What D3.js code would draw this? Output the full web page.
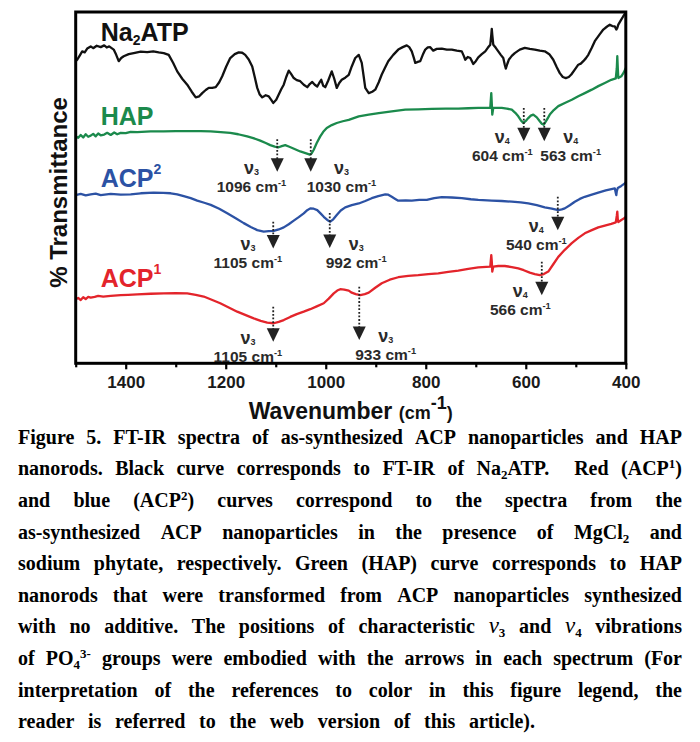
<!DOCTYPE html>
<html><head><meta charset="utf-8">
<script src="https://cdn.jsdelivr.net/npm/d3@7"></script>
<style>body{margin:0;background:#fff}svg{display:block}</style>
</head><body>
<script>
// ---------- DATA ----------
const xTicksMajor = [1400, 1200, 1000, 800, 600, 400];
const xTicksMinor = [1500, 1300, 1100, 900, 700, 500];

const na2atp = [[1500,86.0],[1497,86.4],[1492,87.6],[1487,88.8],[1482,88.5],[1477,89.6],[1470,90.2],[1465,89.7],[1458,90.4],[1450,90.0],[1443,90.5],[1438,89.9],[1433,90.2],[1424,89.3],[1419,87.8],[1414,86.0],[1409,86.9],[1404,87.4],[1394,88.0],[1384,88.3],[1370,88.7],[1357,88.6],[1345,88.8],[1334,88.5],[1324,88.3],[1314,87.8],[1305,85.5],[1297,83.1],[1287,81.0],[1277,79.3],[1268,77.3],[1260,75.7],[1253,76.0],[1247,76.9],[1240,77.8],[1234,78.4],[1227,78.4],[1220,78.6],[1213,80.0],[1207,81.7],[1199,84.5],[1191,86.9],[1182,88.0],[1174,88.5],[1167,88.4],[1161,87.8],[1154,86.5],[1147,84.5],[1142,81.5],[1137,78.4],[1132,76.5],[1127,75.7],[1120,76.3],[1114,76.0],[1109,75.0],[1105,74.1],[1099,75.0],[1094,76.5],[1089,78.0],[1084,79.3],[1079,81.5],[1074,83.3],[1069,82.3],[1064,81.2],[1058,80.6],[1051,80.3],[1044,79.3],[1037,78.6],[1032,79.5],[1027,80.1],[1022,79.3],[1017,78.8],[1013,79.8],[1009,80.7],[1005,79.0],[1001,78.6],[995,80.5],[988,83.1],[983,81.0],[978,78.4],[973,79.8],[968,80.7],[961,81.3],[954,82.1],[948,84.5],[941,86.9],[934,87.8],[928,85.5],[924,81.5],[921,78.4],[914,76.9],[907,77.3],[901,77.9],[894,80.0],[888,82.2],[881,84.3],[875,86.0],[865,87.8],[855,89.3],[846,90.0],[838,90.5],[833,90.0],[828,88.8],[824,87.0],[821,85.5],[816,85.8],[811,86.0],[806,87.8],[801,89.3],[796,89.9],[791,90.0],[785,89.0],[778,89.5],[768,89.6],[758,89.3],[748,89.3],[738,89.0],[728,88.8],[724,87.5],[721,86.4],[716,87.2],[711,86.9],[707,85.8],[705,85.2],[700,86.0],[695,87.1],[688,88.0],[681,88.8],[676,89.8],[671,90.7],[669,93.5],[668,95.2],[667,93.5],[665,90.7],[660,89.8],[655,88.8],[650,87.8],[645,86.9],[642,85.0],[640,83.9],[637,85.2],[634,86.4],[628,87.5],[622,88.3],[612,89.3],[602,89.8],[592,89.5],[582,89.3],[572,89.0],[562,88.8],[553,88.0],[545,86.4],[538,84.3],[532,82.6],[526,81.5],[520,81.2],[514,81.5],[509,82.2],[502,83.6],[495,85.0],[490,85.3],[485,86.0],[480,86.8],[475,87.8],[468,89.8],[462,91.7],[453,93.5],[445,95.0],[438,95.8],[432,96.4],[427,96.0],[422,95.9],[419,95.0],[417,95.5],[415,96.4],[410,97.6],[405,98.8],[400,99.9]];

const hap = [[1500,64.6],[1495,64.2],[1490,65.0],[1485,64.3],[1480,65.2],[1475,64.5],[1470,64.8],[1465,65.3],[1460,64.6],[1455,65.4],[1450,64.9],[1443,65.1],[1437,65.6],[1430,65.0],[1423,65.7],[1417,65.2],[1410,65.6],[1400,65.5],[1390,65.9],[1377,65.8],[1350,66.0],[1324,66.0],[1300,66.1],[1277,66.1],[1250,66.1],[1230,66.0],[1210,65.8],[1191,65.6],[1175,65.2],[1157,64.6],[1145,64.1],[1131,63.4],[1120,62.7],[1111,62.1],[1102,61.7],[1094,61.5],[1088,61.8],[1081,62.1],[1074,61.7],[1067,61.3],[1059,60.8],[1051,60.3],[1042,59.9],[1036,59.6],[1032,59.4],[1028,59.8],[1024,60.8],[1018,62.7],[1011,64.6],[1005,65.9],[998,67.0],[988,67.8],[978,68.4],[966,68.9],[954,69.3],[934,70.3],[914,70.8],[894,71.2],[868,71.7],[841,72.2],[815,72.3],[788,72.4],[760,72.5],[735,72.5],[715,72.6],[695,72.7],[671,72.7],[669,76.9],[668,74.0],[667,70.8],[665,72.7],[648,72.7],[638,72.5],[628,72.2],[621,71.3],[615,70.3],[610,69.2],[605,68.4],[600,69.0],[595,69.8],[590,70.5],[585,70.8],[578,70.0],[572,68.9],[568,68.2],[564,67.9],[558,69.3],[552,70.8],[544,72.1],[535,73.2],[522,74.1],[508,75.0],[495,76.0],[482,76.9],[468,77.9],[455,78.9],[442,79.8],[429,80.7],[420,81.1],[418,84.0],[417,87.4],[416,84.0],[415,81.2],[409,81.7],[404,82.8],[400,84.1]];

const acp2 = [[1500,47.9],[1490,48.2],[1480,47.8],[1470,48.1],[1460,48.3],[1450,47.9],[1430,48.2],[1410,48.0],[1390,48.1],[1370,48.4],[1344,48.6],[1325,48.5],[1310,48.4],[1297,48.1],[1284,47.6],[1270,47.0],[1257,46.3],[1243,45.7],[1230,45.1],[1213,44.0],[1197,42.7],[1180,41.3],[1164,39.9],[1150,38.8],[1137,37.9],[1124,37.5],[1114,37.6],[1104,37.7],[1094,38.1],[1084,38.7],[1074,39.6],[1064,40.6],[1054,41.6],[1044,42.7],[1037,43.6],[1031,44.1],[1024,44.0],[1017,43.6],[1010,42.6],[1004,41.7],[997,40.8],[991,40.3],[985,41.0],[978,42.2],[970,43.5],[961,44.4],[948,45.0],[934,45.5],[921,46.2],[908,47.0],[895,47.6],[881,48.1],[875,48.0],[868,47.4],[861,46.8],[855,46.3],[840,46.4],[828,46.3],[813,46.5],[798,46.5],[783,47.0],[768,47.3],[748,47.2],[728,47.0],[710,46.7],[695,46.5],[668,46.3],[648,46.2],[628,46.0],[610,45.8],[595,45.5],[578,45.0],[562,44.4],[548,44.0],[535,43.6],[528,43.8],[522,44.1],[512,45.0],[502,46.0],[492,46.8],[482,47.4],[468,48.0],[455,48.6],[440,49.2],[422,49.8],[420,48.5],[419,47.9],[418,49.0],[416,49.9],[409,50.5],[402,51.2],[400,51.5]];

const acp1 = [[1500,18.2],[1495,18.6],[1490,18.0],[1485,18.8],[1480,18.3],[1475,18.9],[1470,18.7],[1462,18.9],[1455,19.2],[1445,19.0],[1430,19.2],[1410,19.4],[1395,19.5],[1377,19.6],[1350,19.8],[1324,19.9],[1300,20.0],[1277,19.9],[1260,19.5],[1244,19.0],[1228,18.1],[1211,17.1],[1194,15.9],[1177,14.7],[1160,13.7],[1144,12.8],[1130,12.1],[1117,11.6],[1104,11.4],[1094,11.8],[1084,12.3],[1071,13.2],[1058,14.0],[1044,14.7],[1031,15.4],[1018,16.2],[1004,17.1],[994,18.4],[984,19.9],[977,20.7],[971,21.1],[963,21.0],[954,20.7],[948,20.1],[940,19.7],[931,19.4],[922,19.7],[914,20.1],[901,21.5],[888,22.8],[872,23.8],[855,24.5],[835,24.9],[815,25.1],[795,25.4],[775,25.6],[755,26.0],[735,26.4],[715,26.9],[695,27.3],[671,27.5],[669,30.8],[668,29.0],[667,26.1],[665,27.5],[655,27.7],[642,27.7],[628,27.4],[615,27.0],[604,26.5],[592,25.8],[582,25.4],[572,25.1],[564,25.4],[555,26.1],[545,28.2],[535,30.3],[522,32.3],[508,34.2],[495,35.7],[482,37.0],[468,37.9],[455,38.7],[442,39.2],[429,39.7],[420,40.1],[418,42.0],[417,43.2],[416,41.0],[415,40.2],[409,40.8],[404,41.2],[400,41.7]];

const seriesNames = ["Na_{2}ATP", "HAP", "ACP^{2}", "ACP^{1}"];
const seriesLabelAt = [[1450, 91.7], [1450, 67.8], [1450, 50.3], [1450, 21.6]];

// peak annotations: label wavenumber, drawn position, vibration mode, dotted top, arrow tip, label side
const peakSeries = ["HAP","HAP","HAP","HAP","ACP2","ACP2","ACP2","ACP1","ACP1","ACP1"];
const peakLabel  = [1096, 1030, 604, 563, 1105, 992, 540, 1105, 933, 566];
const peakAt     = [1097, 1030, 604, 563, 1105, 992, 536, 1105, 933, 568];
const peakMode   = ["3","3","4","4","3","3","4","3","3","4"];
const peakTop    = [63.8, 63.8, 72.7, 72.7, 40.3, 42.8, 47.4, 16.1, 21.8, 28.9];
const peakTip    = [54.5, 54.5, 63.2, 63.2, 32.7, 32.8, 37.9, 6.1, 6.6, 19.4];
const peakSide   = ["left","right","left","right","left","right","left","left","right","left"];

const captionLines = [
  "Figure 5. FT-IR spectra of as-synthesized ACP nanoparticles and HAP",
  "nanorods. Black curve corresponds to FT-IR of Na_{2}ATP.  Red (ACP^{1})",
  "and blue (ACP^{2}) curves correspond to the spectra from the",
  "as-synthesized ACP nanoparticles in the presence of MgCl_{2} and",
  "sodium phytate, respectively. Green (HAP) curve corresponds to HAP",
  "nanorods that were transformed from ACP nanoparticles synthesized",
  "with no additive. The positions of characteristic ν_{3} and ν_{4} vibrations",
  "of PO_{4}^{3-} groups were embodied with the arrows in each spectrum (For",
  "interpretation of the references to color in this figure legend, the",
  "reader is referred to the web version of this article)."
];

// ---------- DRAW ----------
const W = 700, H = 742;
const X0 = 75.7, X1 = 625.8, Y0 = 12, Y1 = 363.3;
const SANS = "'Liberation Sans', Arial, Helvetica, sans-serif";
const SERIF = "'Liberation Serif', 'Times New Roman', serif";
const colors = ["#111111", "#1b8a4c", "#2c52a4", "#e3242b"];

const svg = d3.select("body").append("svg").attr("width", W).attr("height", H);
svg.append("rect").attr("width", W).attr("height", H).attr("fill", "#fff");

const x = d3.scaleLinear().domain([1500, 400]).range([X0, X1]);
const y = d3.scaleLinear().domain([0, 100]).range([Y1, Y0]);

function rich(sel, str, size, scale, supShift, subShift) {
  const re = /_\{([^}]*)\}|\^\{([^}]*)\}|([^_^]+)/g;
  let m, shift = 0;
  while ((m = re.exec(str))) {
    let target = 0, txt, fs = size;
    if (m[1] !== undefined) { target = subShift; txt = m[1]; fs = size * scale; }
    else if (m[2] !== undefined) { target = -supShift; txt = m[2]; fs = size * scale; }
    else txt = m[3];
    const t = sel.append("tspan").attr("font-size", fs).attr("dy", target - shift).text(txt);
    if (txt === "ν") t.attr("font-style", "italic").attr("font-weight", "normal").attr("font-size", size * 1.15);
    shift = target;
  }
}

// axes ticks
const gMaj = svg.append("g").attr("transform", `translate(0,${Y1})`)
  .call(d3.axisBottom(x).tickValues(xTicksMajor).tickSize(6).tickPadding(7).tickFormat(d3.format("d")));
const gMin = svg.append("g").attr("transform", `translate(0,${Y1})`)
  .call(d3.axisBottom(x).tickValues(xTicksMinor).tickSize(4).tickFormat(""));
[gMaj, gMin].forEach(g => {
  g.select(".domain").remove();
  g.selectAll(".tick line").attr("stroke", "#000").attr("stroke-width", 2.2);
});
gMaj.selectAll(".tick text").attr("font-family", SANS).attr("font-weight", "bold")
  .attr("font-size", 17).attr("fill", "#1a1a1a");

// curves
const line = d3.line().x(d => x(d[0])).y(d => y(d[1]));
[na2atp, hap, acp2, acp1].forEach((s, i) => {
  svg.append("path").datum(s).attr("d", line).attr("fill", "none")
    .attr("stroke", colors[i]).attr("stroke-width", 2.3).attr("stroke-linejoin", "round");
});

// frame
svg.append("rect").attr("x", X0).attr("y", Y0).attr("width", X1 - X0).attr("height", Y1 - Y0)
  .attr("fill", "none").attr("stroke", "#000").attr("stroke-width", 3);

// series labels
seriesNames.forEach((n, i) => {
  const t = svg.append("text").attr("x", x(seriesLabelAt[i][0])).attr("y", y(seriesLabelAt[i][1]))
    .attr("font-family", SANS).attr("font-weight", "bold").attr("fill", colors[i]);
  rich(t, n, 25, 0.56, 13, 4);
});

// peak annotations
peakAt.forEach((wn, i) => {
  const px = x(wn), top = y(peakTop[i]), tip = y(peakTip[i]);
  const base = tip - 13.5;
  svg.append("line").attr("x1", px).attr("x2", px).attr("y1", top).attr("y2", base + 2)
    .attr("stroke", "#222").attr("stroke-width", 1.8).attr("stroke-dasharray", "1.8,1.8");
  svg.append("path").attr("d", `M${px - 6.5},${base}L${px + 6.5},${base}L${px},${tip}Z`).attr("fill", "#222");
  const left = peakSide[i] === "left";
  const num = svg.append("text").attr("x", left ? px + 9 : px - 4).attr("y", tip + 20)
    .attr("text-anchor", left ? "end" : "start")
    .attr("font-family", SANS).attr("font-weight", "bold").attr("fill", "#2a2a2a");
  rich(num, peakLabel[i] + " cm^{-1}", 15.5, 0.6, 6, 0);
  const bb = num.node().getBBox();
  const nu = svg.append("text").attr("x", bb.x + bb.width / 2).attr("y", tip + 2)
    .attr("text-anchor", "middle").attr("font-family", SANS).attr("font-weight", "bold").attr("fill", "#2a2a2a");
  nu.append("tspan").attr("font-size", 18).text("ν");
  nu.append("tspan").attr("font-size", 9).attr("dy", 1).text(peakMode[i]);
});

// axis titles
svg.append("text").attr("transform", `translate(66.5,192.5) rotate(-90)`)
  .attr("text-anchor", "middle").attr("font-family", SANS).attr("font-weight", "bold")
  .attr("font-size", 24).attr("fill", "#111").text("% Transmittance");
const xt = svg.append("text").attr("x", (X0 + X1) / 2).attr("y", 418.7).attr("text-anchor", "middle")
  .attr("font-family", SANS).attr("font-weight", "bold").attr("fill", "#111");
xt.append("tspan").attr("font-size", 23).text("Wavenumber ");
xt.append("tspan").attr("font-size", 18).text("(cm");
xt.append("tspan").attr("font-size", 18).attr("dy", -10).text("-1");
xt.append("tspan").attr("font-size", 18).attr("dy", 10).text(")");

// caption (justified; last line set with wide word spaces as in the original)
const CL = 18, CR = 682, CLAST = 535, CB0 = 443.7, CLH = 31.6, CFS = 20;
captionLines.forEach((ln, li) => {
  const words = ln.split(" ");
  const g = svg.append("g");
  const nodes = words.map(w => {
    const t = g.append("text").attr("y", CB0 + li * CLH).attr("font-family", SERIF)
      .attr("font-weight", "bold").attr("font-size", CFS).attr("fill", "#000");
    rich(t, w, CFS, 0.65, 7, 4);
    return t;
  });
  const widths = nodes.map(t => t.node().getComputedTextLength());
  const total = d3.sum(widths);
  const last = li === captionLines.length - 1;
  const gap = ((last ? CLAST : CR) - CL - total) / (words.length - 1);
  let cx = CL;
  nodes.forEach((t, k) => { t.attr("x", cx); cx += widths[k] + gap; });
});
</script>
</body></html>
